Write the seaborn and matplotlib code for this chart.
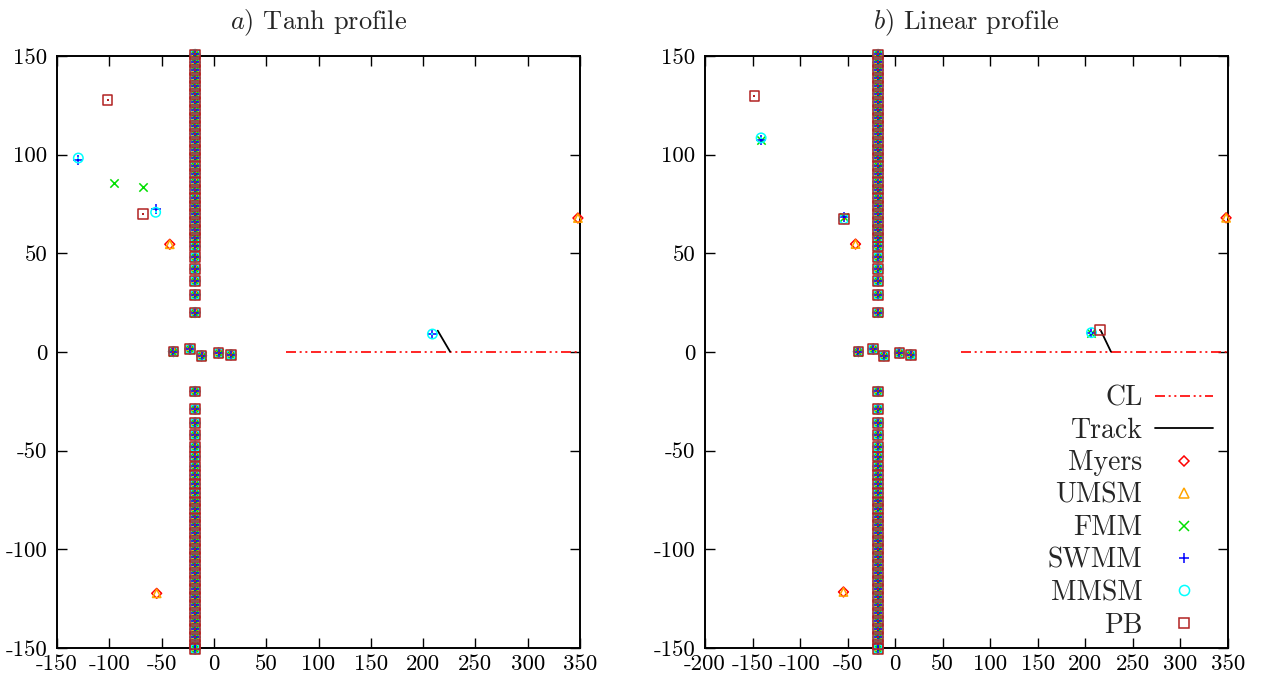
import matplotlib
matplotlib.use("Agg")
import matplotlib.pyplot as plt
from matplotlib.lines import Line2D
import seaborn as sns
import pandas as pd

# ---------------- data ----------------
col_x = -18.0
col_y = [20, 29, 36, 42, 48, 53.5, 58, 62, 66, 70, 74, 78, 82.3, 86.3, 90.4, 94.4,
         98.5, 102.5, 106.6, 110.6, 114.7, 118.7, 122.8, 126.8, 130.9, 134.9,
         138.8, 142.9, 146.8, 150.8,
         -20, -29, -36, -42, -48, -53, -58, -62.5, -67, -71.6, -75.7, -79.7,
         -83.8, -87.8, -91.9, -95.9, -100, -104, -108.1, -112.1, -116.2, -120.2,
         -124.3, -128.3, -132.4, -136.4, -140.5, -144.5, -148.2, -150.5]
center_x = [-38.7, -23.0, -11.8, 4.5, 16.3]
center_y = [0.2, 1.5, -1.9, -0.5, -1.4]

series_names = ["Myers", "UMSM", "FMM", "SWMM", "MMSM", "PB"]
series_colors = ["#ff0000", "#ffa500", "#00e000", "#0000ff", "#00ffff", "#b22222"]

# extra (off-column) points per panel and series
tanh_extra_x = {"Myers": [-42.2, -54.7, 348], "UMSM": [-42.2, -54.7, 348],
                "FMM": [-95.7, -67.5], "SWMM": [-129.6, -55.7, 208.9],
                "MMSM": [-129.6, -55.7, 208.9], "PB": [-101.7, -67.8]}
tanh_extra_y = {"Myers": [54.6, -122.3, 67.9], "UMSM": [54.6, -122.3, 67.9],
                "FMM": [85.8, 83.5], "SWMM": [97.3, 72.3, 9.1],
                "MMSM": [98.3, 70.8, 9.1], "PB": [127.7, 70.1]}
lin_extra_x = {"Myers": [-41.7, -54.4, 348], "UMSM": [-41.7, -54.4, 348],
               "FMM": [-141, -54, 206.4], "SWMM": [-141, -54, 206.4],
               "MMSM": [-141, -54, 206.4], "PB": [-148, -54, 215.2]}
lin_extra_y = {"Myers": [54.7, -121.6, 68.0], "UMSM": [54.7, -121.6, 68.0],
               "FMM": [107.5, 68.5, 9.5], "SWMM": [107.5, 68.5, 9.5],
               "MMSM": [108.5, 67.5, 9.8], "PB": [129.7, 67.5, 11.2]}

cl_x = [69, 350]
cl_y = [0, 0]
tanh_track_x = [214.0, 225.8]
tanh_track_y = [10.8, 0.15]
lin_track_x = [216.3, 226.9]
lin_track_y = [10.8, 0.15]

titles = [r"$a$) Tanh profile", r"$b$) Linear profile"]
yticks = [-150, -100, -50, 0, 50, 100, 150]
xticks_a = [-150, -100, -50, 0, 50, 100, 150, 200, 250, 300, 350]
xticks_b = [-200, -150, -100, -50, 0, 50, 100, 150, 200, 250, 300, 350]

# ---------------- style ----------------
sns.set_style("ticks")
plt.rcParams["font.family"] = ["cmr10", "DejaVu Serif"]
plt.rcParams["mathtext.fontset"] = "cm"
plt.rcParams["axes.unicode_minus"] = False

markers = {"Myers": "D", "UMSM": "^", "FMM": "x", "SWMM": "+", "MMSM": "o", "PB": "s"}
msize = {"Myers": 5.0, "UMSM": 6.0, "FMM": 6.0, "SWMM": 7.0, "MMSM": 6.8, "PB": 7.0}
dotted = {"MMSM", "PB"}
cl_dash = (0, (6, 2.2, 1.2, 2.2, 1.2, 2.2))

fig = plt.figure(figsize=(12.67, 6.83), dpi=100)
ax_a = fig.add_axes([57 / 1267, 35 / 683, 523 / 1267, 592 / 683])
ax_b = fig.add_axes([705 / 1267, 35 / 683, 523 / 1267, 592 / 683])


def draw(ax, ex_x, ex_y, tr_x, tr_y, xticks, xlim, title):
    sns.lineplot(x=cl_x, y=cl_y, ax=ax, color="#ff0000", lw=1.2,
                 linestyle=cl_dash, estimator=None, sort=False)
    ax.lines[-1].set_dashes(cl_dash[1])
    sns.lineplot(x=tr_x, y=tr_y, ax=ax, color="black", lw=1.3,
                 estimator=None, sort=False)
    for name, color in zip(series_names, series_colors):
        xs = [col_x] * len(col_y) + center_x + ex_x[name]
        ys = list(col_y) + center_y + ex_y[name]
        df = pd.DataFrame({"x": xs, "y": ys})
        m = markers[name]
        if m in ("x", "+"):
            sns.scatterplot(data=df, x="x", y="y", ax=ax, marker=m, color=color,
                            s=msize[name] ** 2, linewidth=1.1, clip_on=False,
                            zorder=3)
        else:
            sns.scatterplot(data=df, x="x", y="y", ax=ax, marker=m,
                            facecolors="none", edgecolors=color,
                            s=msize[name] ** 2, linewidth=1.1, clip_on=False,
                            zorder=3)
        if name in dotted:
            sns.scatterplot(data=df, x="x", y="y", ax=ax, marker="s",
                            color=color, s=2.0, linewidth=0, clip_on=False,
                            zorder=3)
    ax.set_xlim(*xlim)
    ax.set_ylim(-150, 150)
    ax.set_xticks(xticks)
    ax.set_xticklabels([str(t) for t in xticks])
    ax.set_yticks(yticks)
    ax.set_yticklabels([str(t) for t in yticks])
    ax.tick_params(direction="in", length=7, width=1.0, top=True, right=True,
                   labelsize=16.5, pad=5, colors="black")
    ax.tick_params(axis="y", pad=7)
    for s in ax.spines.values():
        s.set_visible(True)
        s.set_linewidth(1.4)
        s.set_color("black")
        s.set_zorder(2)
    ax.set_xlabel("")
    ax.set_ylabel("")
    ax.set_title(title, fontsize=19, pad=19)


draw(ax_a, tanh_extra_x, tanh_extra_y, tanh_track_x, tanh_track_y,
     xticks_a, (-150, 350), titles[0])
draw(ax_b, lin_extra_x, lin_extra_y, lin_track_x, lin_track_y,
     xticks_b, (-200, 350), titles[1])

# legend (gnuplot style: label then sample, right aligned)
handles = [Line2D([], [], color="#ff0000", lw=1.2, linestyle=cl_dash),
           Line2D([], [], color="black", lw=1.3)]
for name, color in zip(series_names, series_colors):
    m = markers[name]
    if m in ("x", "+"):
        handles.append(Line2D([], [], linestyle="none", marker=m, color=color,
                              markersize=msize[name] + 0.5, markeredgewidth=1.1))
    else:
        handles.append(Line2D([], [], linestyle="none", marker=m,
                              markerfacecolor="none", markeredgecolor=color,
                              markersize=msize[name] + 0.5, markeredgewidth=1.1))
labels = ["CL", "Track"] + series_names
ax_b.legend(handles, labels, loc="upper right", bbox_to_anchor=(0.972, 0.444),
            frameon=False, markerfirst=False, fontsize=20, handlelength=2.1,
            handletextpad=0.45, labelspacing=0.22, borderpad=0, borderaxespad=0)

fig.savefig("out.png", dpi=100)
